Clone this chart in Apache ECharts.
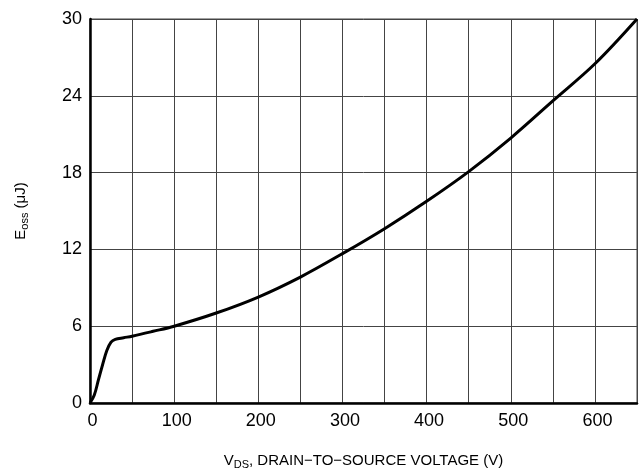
<!DOCTYPE html>
<html>
<head>
<meta charset="utf-8">
<script src="https://cdn.jsdelivr.net/npm/echarts@6/dist/echarts.min.js"></script>
<style>
html,body{margin:0;padding:0;background:#fff;}
#chart{width:642px;height:472px;}
</style>
</head>
<body>
<div id="chart"></div>
<script>
// Data
var vdsValues = [0, 5, 10, 15, 20, 25, 30, 40, 50, 75, 100, 150, 200, 250, 300, 350, 400, 450, 500, 550, 600, 650];
var eossValues = [0, 0.6, 1.8, 3.0, 4.1, 4.75, 4.97, 5.1, 5.22, 5.6, 6.0, 7.03, 8.28, 9.84, 11.67, 13.62, 15.76, 18.08, 20.7, 23.6, 26.5, 30];
var xTickLabels = ['0', '100', '200', '300', '400', '500', '600'];
var yTickLabels = ['0', '6', '12', '18', '24', '30'];

var FONT = "'Liberation Sans', Arial, Helvetica, sans-serif";
var seriesData = vdsValues.map(function (v, i) { return [v, eossValues[i]]; });

var chart = echarts.init(document.getElementById('chart'), null, {renderer: 'canvas'});
chart.setOption({
  animation: false,
  backgroundColor: '#fff',
  grid: {
    left: 90, right: 5, top: 19, bottom: 69,
    outerBoundsMode: 'none',
    containLabel: false,
    show: true, borderColor: '#444', borderWidth: 1
  },
  xAxis: {
    type: 'value', min: 0, max: 650, interval: 50,
    axisLine: {show: true, lineStyle: {color: '#000', width: 2.5}},
    axisTick: {show: false},
    splitLine: {show: true, lineStyle: {color: '#444', width: 1}},
    axisLabel: {
      color: '#000', fontSize: 18, fontFamily: FONT, margin: 9,
      padding: [0, 0, 0, 5],
      showMaxLabel: false,
      formatter: function (v) {
        var s = String(v);
        return xTickLabels.indexOf(s) >= 0 ? s : '';
      }
    },
    name: '{n|V}{s|DS}{n|, DRAIN\u2212TO\u2212SOURCE VOLTAGE (V)}',
    nameLocation: 'middle', nameGap: 48,
    nameTextStyle: {
      color: '#000', fontFamily: FONT,
      rich: {
        n: {fontSize: 15, fontFamily: FONT, color: '#000'},
        s: {fontSize: 11, fontFamily: FONT, color: '#000', padding: [8, 0, 0, 0]}
      }
    }
  },
  yAxis: {
    type: 'value', min: 0, max: 30, interval: 6,
    axisLine: {show: true, lineStyle: {color: '#000', width: 2.5}},
    axisTick: {show: false},
    splitLine: {show: true, lineStyle: {color: '#444', width: 1}},
    axisLabel: {
      color: '#000', fontSize: 18, fontFamily: FONT, margin: 8,
      formatter: function (v) {
        var s = String(v);
        return yTickLabels.indexOf(s) >= 0 ? s : '';
      }
    },
    name: '{n|E}{s|oss}{n| (\u03bcJ)}',
    nameLocation: 'middle', nameGap: 60,
    nameTextStyle: {
      color: '#000', fontFamily: FONT,
      rich: {
        n: {fontSize: 15, fontFamily: FONT, color: '#000'},
        s: {fontSize: 11, fontFamily: FONT, color: '#000', padding: [8, 0, 0, 0]}
      }
    }
  },
  series: [{
    type: 'line',
    data: seriesData,
    smooth: 0.35,
    showSymbol: false,
    lineStyle: {color: '#000', width: 3},
    z: 5
  }]
});
</script>
</body>
</html>
